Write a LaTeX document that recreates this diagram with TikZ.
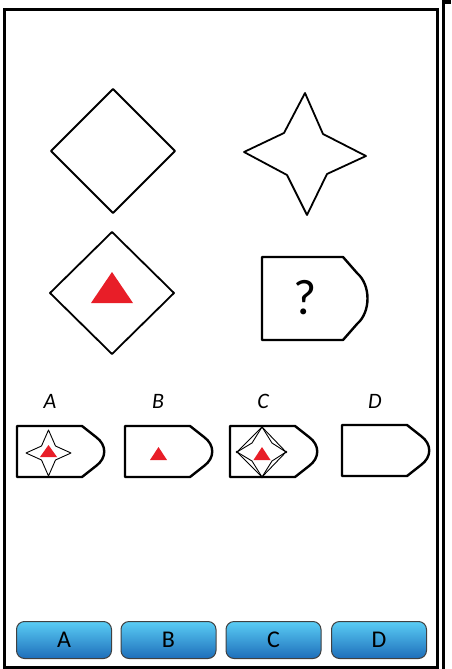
\documentclass[tikz,border=0pt]{standalone}
\usepackage{fontspec}
\setmainfont{Carlito}
\usetikzlibrary{positioning}
\definecolor{trired}{RGB}{232,30,40}
\definecolor{btntop}{RGB}{90,205,245}
\definecolor{btnbot}{RGB}{30,110,186}

\begin{document}
\begin{tikzpicture}[x=1pt, y=-1pt,
  figline/.style={draw, line width=1.8pt, line join=round},
  tagline/.style={draw, line width=2.4pt, line join=round},
  thinline/.style={draw, line width=0.9pt, line join=round},
  tri/.style={fill=trired},
  optlab/.style={font=\fontsize{22}{26}\selectfont\itshape},
  btn/.style={draw=black!75, line width=1pt, rounded corners=8pt, minimum width=95pt,
    minimum height=37pt, top color=btntop, bottom color=btnbot, inner sep=0pt,
    font=\fontsize{24}{28}\selectfont}]
\useasboundingbox (0,0) rectangle (451,669);

% --- cornice ---
\draw[line width=3pt] (4.5,9.5) rectangle (437,667);
\draw[line width=3.3pt] (443.5,669) -- (443.5,2) -- (451,2);

% --- figure della domanda ---
\draw[figline] (113,89) -- (175,151) -- (113,213) -- (51,151) -- cycle;
\draw[figline] (305,93) -- (284,133) -- (244,152) -- (287,175) -- (307,215)
  -- (327,174) -- (366,156) -- (323,134) -- cycle;
\draw[figline] (112,232) -- (174,293) -- (112,354) -- (50,293) -- cycle;
\fill[tri] (112,272) -- (133,303) -- (91,303) -- cycle;
\draw[tagline] (262,257) -- (343,257) -- (357,273) .. controls (371,285) and (371,312) ..
  (357,324) -- (343,340) -- (262,340) -- cycle;
\node[font=\fontsize{50}{54}\selectfont] (quest) at (305,298) {?};

% --- risposte A-D ---
\foreach \x/\y/\n in {17/426/A, 125/426/B, 230/426/C, 342/425/D}{
  \draw[tagline] (\x,\y) -- ({\x+65},\y) -- ({\x+79},{\y+11}) .. controls ({\x+90},{\y+19})
    and ({\x+90},{\y+32}) .. ({\x+79},{\y+40}) -- ({\x+65},{\y+51}) -- (\x,{\y+51}) -- cycle;
  \node[optlab] (lab\n) at ({\x+33},401) {\n};
}
% A
\draw[thinline] (48.5,430) -- (41.5,446) -- (26,453) -- (41.5,460) -- (48.5,476)
  -- (55.5,460) -- (71,453) -- (55.5,446) -- cycle;
\fill[tri] (48.5,445) -- (57,457) -- (40,457) -- cycle;
% B
\fill[tri] (158.5,447) -- (167,460) -- (150,460) -- cycle;
% C
\draw[thinline] (262,427) -- (286,452) -- (262,477) -- (237,452) -- cycle;
\draw[thinline] (262,427) -- (252,443) -- (237,452) -- (252,461) -- (262,477)
  -- (272,461) -- (286,452) -- (272,443) -- cycle;
\foreach \p in {(262,427),(286,452),(262,477),(237,452)}
  \fill \p circle (1.4pt);
\fill[tri] (262,447) -- (270.5,460) -- (253.5,460) -- cycle;

% --- pulsanti ---
\foreach \x/\n in {64/A, 168.5/B, 273.5/C, 379/D}
  \node[btn] (btn\n) at (\x,640) {\n};
\end{tikzpicture}
\end{document}
